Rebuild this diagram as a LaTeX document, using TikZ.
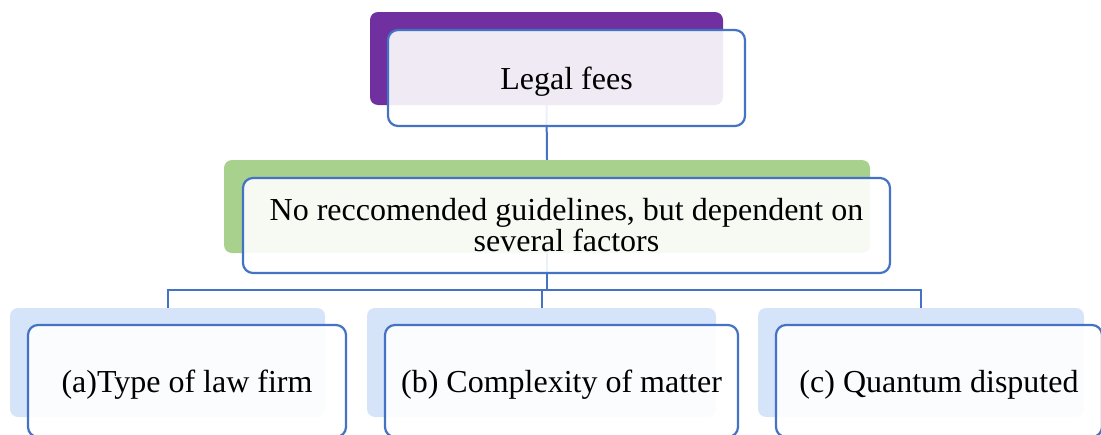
\documentclass[tikz,border=0pt]{standalone}
\usepackage{fontspec}
\setmainfont{Liberation Serif}
\usepackage{tikz}
\usetikzlibrary{positioning}
\definecolor{linkblue}{HTML}{4472C4}
\definecolor{feespurple}{HTML}{7030A0}
\definecolor{guidegreen}{HTML}{A9D18E}
\definecolor{factorblue}{HTML}{D6E4F9}

\begin{document}
\begin{tikzpicture}[
  x=1pt,y=-1pt,
  back/.style={rounded corners=8pt,inner sep=0pt,draw=none},
  front/.style={draw=linkblue,line width=2.2pt,rounded corners=10pt,fill=white,fill opacity=0.9,text opacity=1,align=center,inner sep=0pt,font=\rmfamily\fontsize{32}{31}\selectfont},
  oneline/.style={front,text height=22pt,text depth=0pt},
  link/.style={draw=linkblue,line width=2pt}
]
\useasboundingbox (0,0) rectangle (1101,434);
\clip (0,0) rectangle (1101,434);
% back boxes
\node[back,fill=feespurple,minimum width=353pt,minimum height=93pt] (feesback) at (546.5,58.5) {};
\node[back,fill=guidegreen,minimum width=646pt,minimum height=93pt] (guideback) at (547,206.5) {};
\node[back,fill=factorblue,minimum width=315pt,minimum height=109pt] (firmback) at (167.5,362.5) {};
\node[back,fill=factorblue,minimum width=349pt,minimum height=109pt] (matterback) at (541.5,362.5) {};
\node[back,fill=factorblue,minimum width=326pt,minimum height=109pt] (quantumback) at (921,362.5) {};
% connectors
\coordinate (bar) at (547,290);
\draw[link] (feesback.south) -- (guideback.north);
\draw[link] (guideback.south) -- (bar);
\draw[link] (firmback.north) |- (bar) -| (quantumback.north);
\draw[link] (matterback.north) -- (matterback.north |- bar);
% front boxes
\node[oneline,minimum width=357pt,minimum height=96pt] (fees) at (566.5,78) {Legal fees};
\node[front,minimum width=647pt,minimum height=95pt] (guide) at (566.5,225.5) {No reccomended guidelines, but dependent on\\several factors};
\node[oneline,minimum width=318pt,minimum height=112pt] (firm) at (187,381) {(a)Type of law firm};
\node[oneline,minimum width=353pt,minimum height=112pt] (matter) at (561.5,381) {(b) Complexity of matter};
\node[oneline,minimum width=326pt,minimum height=112pt] (quantum) at (939,381) {(c) Quantum disputed};
\end{tikzpicture}
\end{document}
